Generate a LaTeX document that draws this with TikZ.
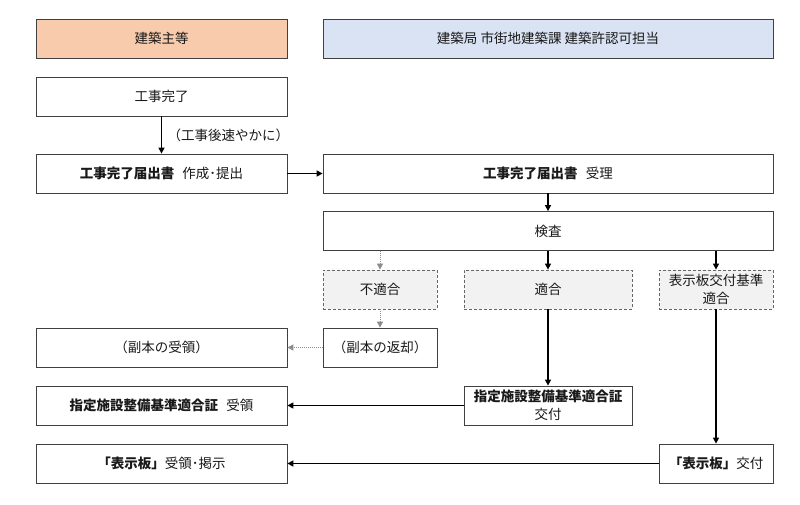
\documentclass[tikz,border=0pt]{standalone}
\usepackage{fontspec}
\setmainfont{Noto Sans CJK JP}
\usetikzlibrary{arrows.meta}
\definecolor{hdrorange}{HTML}{F8CBAD}
\definecolor{hdrblue}{HTML}{DAE3F3}
\definecolor{boxline}{HTML}{404040}
\tikzset{
  base/.style={draw=boxline, line width=0.8pt, text=black!90, inner sep=1pt,
    font=\fontsize{13.5}{18.5}\selectfont, align=center},
  hdr/.style={base, minimum height=39pt},
  box/.style={base, fill=white, minimum height=39pt},
  dbox/.style={base, densely dashed, draw=black!60, fill=black!5, minimum height=39pt},
  arr/.style={line width=1.4pt, -{Triangle[length=6pt,width=6pt]}},
  darr/.style={line width=1pt, densely dotted, draw=black!45, -{Triangle[length=6pt,width=6pt]}, color=black!45},
}

\begin{document}
\begin{tikzpicture}[x=1pt,y=-1pt]
\useasboundingbox (0,0) rectangle (800,504);

% headers
\node[hdr, fill=hdrorange, minimum width=251pt] (owner) at (161.5,38.5) {建築主等};
\node[hdr, fill=hdrblue, minimum width=450pt] (office) at (548,38.5) {建築局 市街地建築課 建築許認可担当};

% left column
\node[box, minimum width=251pt] (done) at (161.5,96.5) {工事完了};
\node[box, minimum width=251pt] (report) at (161.5,173.5) {\textbf{工事完了届出書}\hspace{0.6em}作成･提出};
\node[box, minimum width=251pt] (copyrecv) at (161.5,347.5) {（副本の受領）};
\node[box, minimum width=251pt] (certrecv) at (161.5,405.5) {\textbf{指定施設整備基準適合証}\hspace{0.6em}受領};
\node[box, minimum width=251pt] (boardrecv) at (161.5,463.5) {\textbf{「表示板」}受領･掲示};

% right column
\node[box, minimum width=450pt] (accept) at (548,173.5) {\textbf{工事完了届出書}\hspace{0.6em}受理};
\node[box, minimum width=450pt] (check) at (548,231) {検査};
\node[dbox, minimum width=114pt] (ng) at (380,289.5) {不適合};
\node[dbox, minimum width=168pt] (ok) at (548,289.5) {適合};
\node[dbox, minimum width=114pt] (okboard) at (716,289.5) {表示板交付基準\\適合};
\node[box, minimum width=114pt] (copyret) at (380,347.5) {（副本の返却）};
\node[box, minimum width=168pt] (certgive) at (548,405.5) {\textbf{指定施設整備基準適合証}\\交付};
\node[box, minimum width=114pt] (boardgive) at (716,463.5) {\textbf{「表示板」}交付};

% connectors
\draw[arr] (done.south) -- node[right, font=\fontsize{13.5}{18}\selectfont, text=black!90, xshift=2pt] {（工事後速やかに）} (report.north);
\draw[arr] (report.east) -- (accept.west);
\draw[arr] (accept.south) -- (check.north);
\draw[darr] (check.south -| ng.north) -- (ng.north);
\draw[arr] (check.south -| ok.north) -- (ok.north);
\draw[arr] (check.south -| okboard.north) -- (okboard.north);
\draw[darr] (ng.south) -- (copyret.north);
\draw[darr] (copyret.west) -- (copyrecv.east);
\draw[arr] (ok.south) -- (certgive.north);
\draw[arr] (certgive.west) -- (certrecv.east);
\draw[arr] (okboard.south) -- (boardgive.north);
\draw[arr] (boardgive.west) -- (boardrecv.east);
\end{tikzpicture}
\end{document}
